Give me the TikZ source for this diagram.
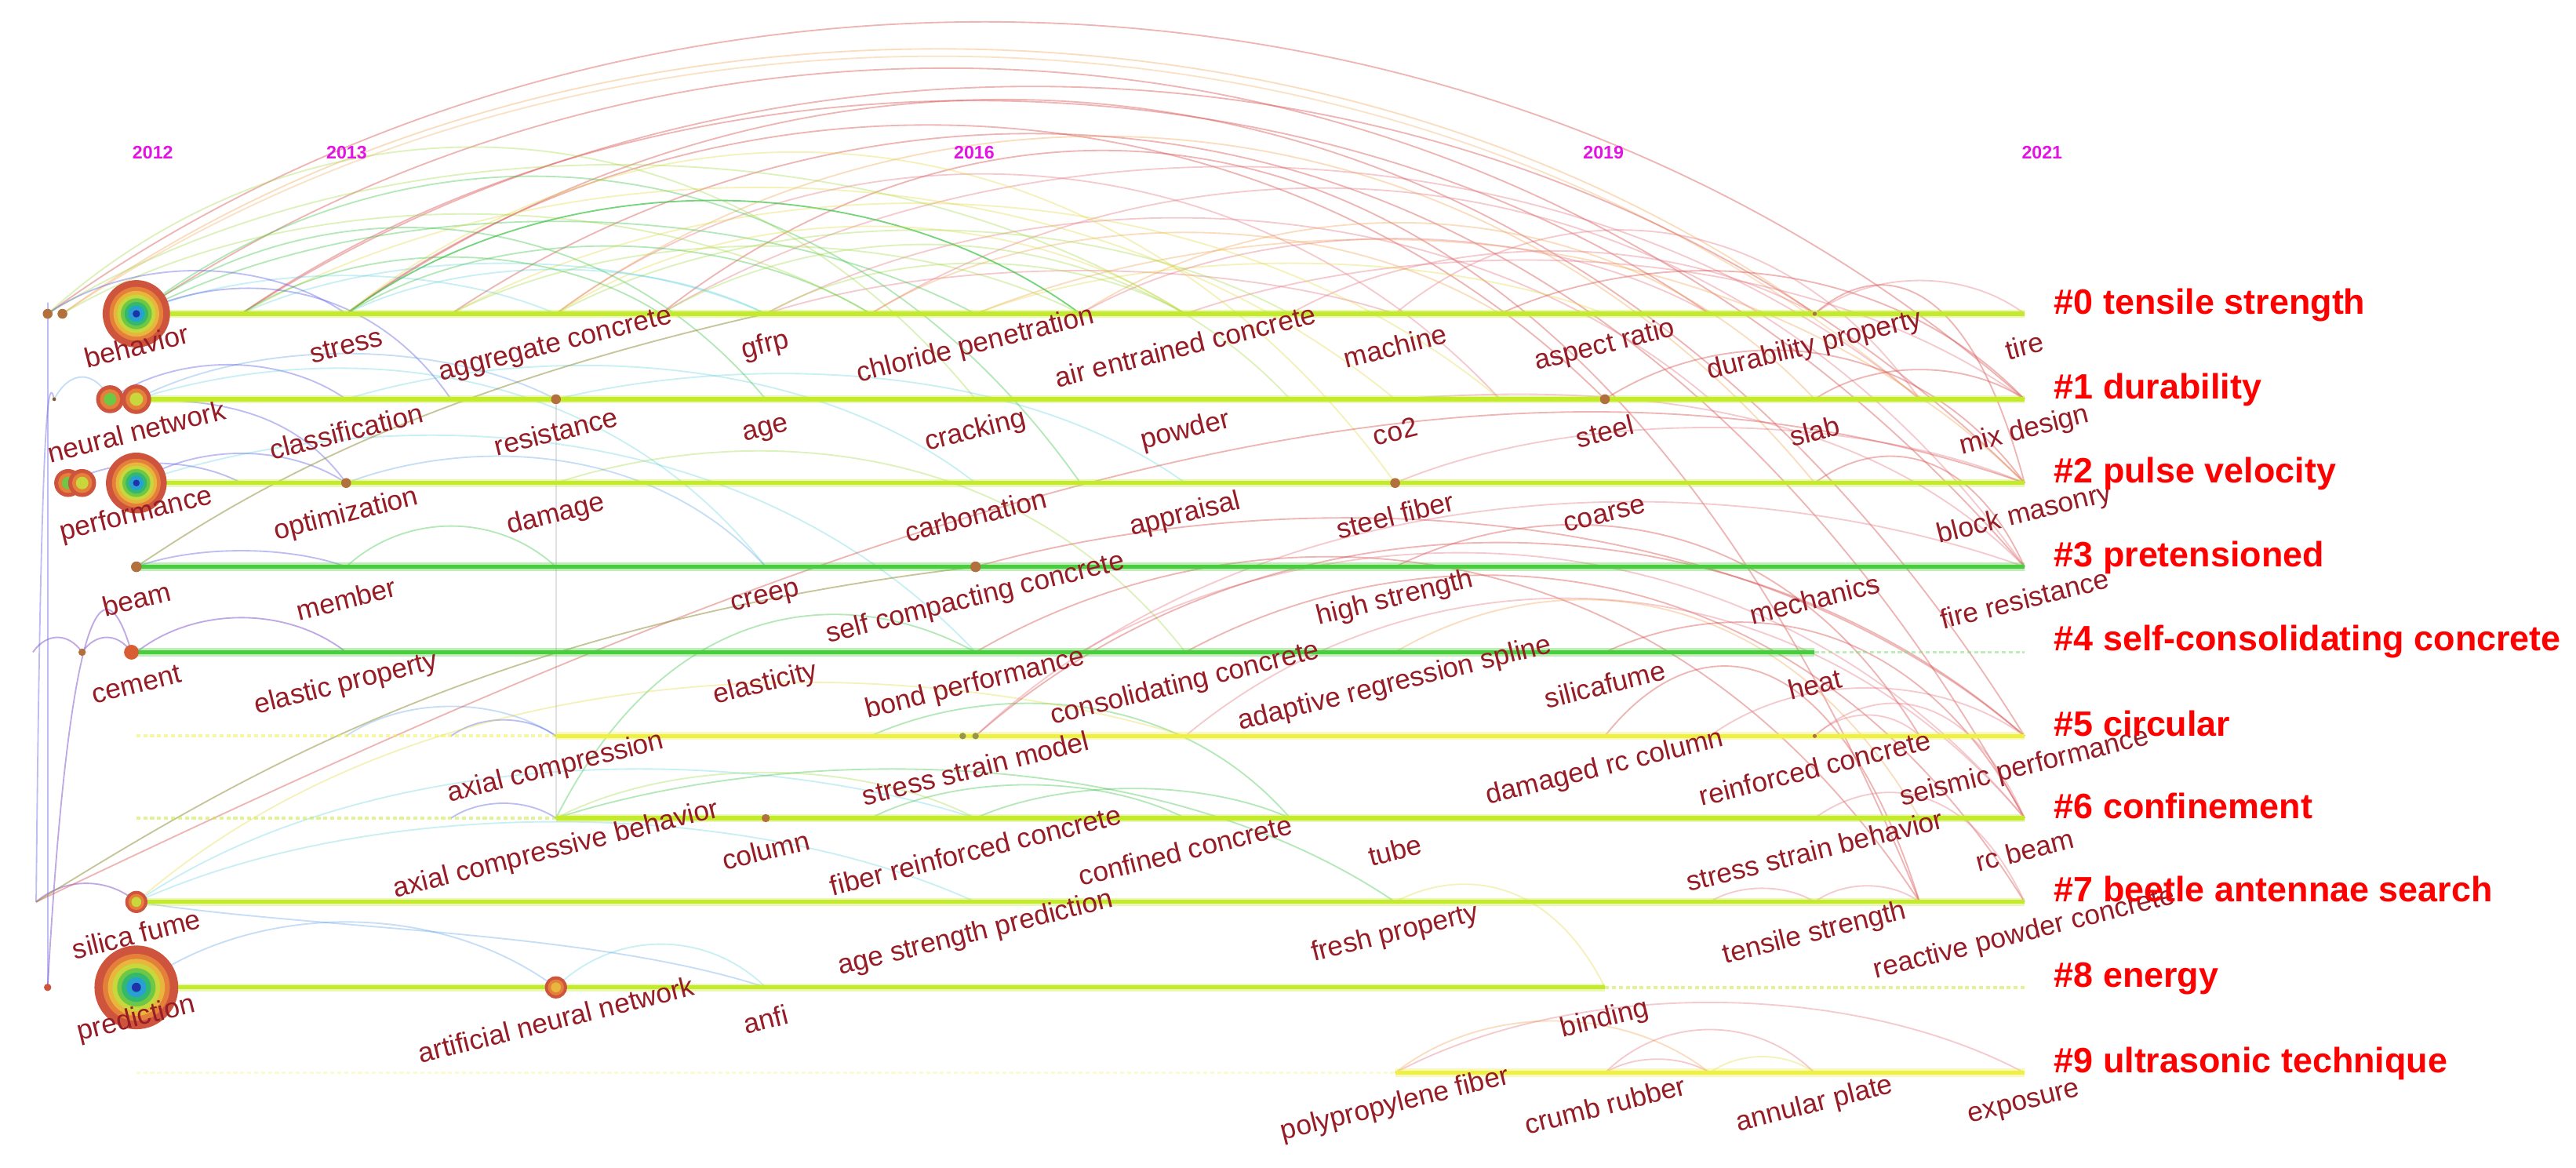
\documentclass[tikz,border=0pt]{standalone}
\usepackage{fontspec}
\setmainfont{Liberation Sans}
\usetikzlibrary{calc}
\definecolor{kwred}{RGB}{150,28,38}
\definecolor{yrmag}{RGB}{225,20,225}
\definecolor{clred}{RGB}{255,0,0}
\definecolor{tlyg}{RGB}{196,234,45}
\definecolor{tlgreen}{RGB}{72,205,60}
\definecolor{tlyel}{RGB}{238,240,70}
\definecolor{dotbrown}{RGB}{178,112,60}
\definecolor{ca}{RGB}{90,90,225}
\definecolor{cb}{RGB}{80,150,230}
\definecolor{cc}{RGB}{60,200,215}
\definecolor{cd}{RGB}{60,195,70}
\definecolor{ce}{RGB}{160,215,60}
\definecolor{cf}{RGB}{225,215,60}
\definecolor{cg}{RGB}{240,160,70}
\definecolor{ch}{RGB}{215,80,80}
\definecolor{ci}{RGB}{230,130,140}
\definecolor{cj}{RGB}{150,110,210}
\definecolor{colive}{RGB}{150,150,70}
\definecolor{ringA}{RGB}{206,84,62}
\definecolor{ringB}{RGB}{228,128,58}
\definecolor{ringC}{RGB}{232,182,60}
\definecolor{ringD}{RGB}{200,215,60}
\definecolor{ringE}{RGB}{110,200,70}
\definecolor{ringF}{RGB}{50,185,110}
\definecolor{ringG}{RGB}{40,160,210}
\definecolor{ringH}{RGB}{30,50,170}
\tikzset{
  arcbase/.style={line width=0.5pt, draw opacity=0.4},
  aa/.style={arcbase, draw=ca},
  ab/.style={arcbase, draw=cb, draw opacity=0.32},
  ac/.style={arcbase, draw=cc, draw opacity=0.28},
  ad/.style={arcbase, draw=cd, draw opacity=0.38},
  ae/.style={arcbase, draw=ce, draw opacity=0.35},
  af/.style={arcbase, draw=cf, draw opacity=0.35},
  ag/.style={arcbase, draw=cg, draw opacity=0.35},
  ah/.style={arcbase, draw=ch, draw opacity=0.42},
  ai/.style={arcbase, draw=ci, draw opacity=0.42},
  aj/.style={arcbase, draw=cj, draw opacity=0.6},
  tlcore/.style={line width=1.4pt},
  tlglow/.style={line width=2.8pt, draw opacity=0.35},
  tldash/.style={line width=1pt, dash pattern=on 1.4pt off 1pt, draw opacity=0.5},
  kw/.style={font=\fontsize{9.6}{11}\selectfont, text=kwred, rotate=14, inner sep=0pt},
  cl/.style={font=\bfseries\fontsize{12.2}{14}\selectfont, text=clred, anchor=base west, inner sep=0pt},
  yr/.style={font=\bfseries\fontsize{6.3}{7}\selectfont, text=yrmag, inner sep=0pt},
  dotn/.style={circle, fill=dotbrown, inner sep=0pt, minimum size=#1},
}
% arc between two named points; #4 = height of the control points (in picture units, y downwards)
\newcommand\carc[4]{\draw[#1] let \p1=(#2), \p2=(#3) in (#2) .. controls ({\x1+0.28*(\x2-\x1)},{(#4)*(-0.569055pt)}) and ({\x2-0.28*(\x2-\x1)},{(#4)*(-0.569055pt)}) .. (#3);}
\newcommand\kwl[3]{\node[kw] (#1) at ($(#2)+(0,19.5)$) {#3};}
\newcommand\bigring[3]{%
  \pgfmathsetmacro\dd{2*#3}%
  \node[circle,inner sep=0pt,minimum size=\dd mm] (#1) at (#2) {};
  \foreach \f/\cx in {1/ringA,0.8/ringB,0.68/ringC,0.57/ringD,0.46/ringE,0.35/ringF,0.24/ringG,0.11/ringH}{%
    \pgfmathsetmacro\rr{\f*#3}\fill[\cx] (#2) circle[radius=\rr mm];}}
\newcommand\smallring[4]{%
  \pgfmathsetmacro\dd{2*#3}%
  \node[circle,inner sep=0pt,minimum size=\dd mm] (#1) at (#2) {};
  \foreach \f/\cx in {1/ringA,0.72/ringB,0.45/#4}{%
    \pgfmathsetmacro\rr{\f*#3}\fill[\cx] (#2) circle[radius=\rr mm];}}
\begin{document}
\begin{tikzpicture}[x=0.02cm,y=-0.02cm]
\useasboundingbox (0,0) rectangle (1568,710.5);
\fill[white] (0,0) rectangle (1568,710.5);
% grid coordinates
\foreach \rw/\yy in {0/191,1/243,2/294,3/345,4/397,5/448,6/498,7/549,8/601,9/653}{
  \foreach \kk in {0,...,18}{\coordinate (p\rw x\kk) at ({83+63.85*\kk},\yy);}}
\coordinate (la0) at (29,191);
\coordinate (lb0) at (38,191);
\coordinate (la1) at (33,243);
\coordinate (lc1) at (67,243);
\coordinate (lc2) at (41.5,294);
\coordinate (ld2) at (50,294);
\coordinate (la4) at (20,397);
\coordinate (lb4) at (50,397);
\coordinate (lc4) at (80,397);
\coordinate (la7) at (22,549);
\coordinate (la8) at (29,601);
\coordinate (s5a) at (586,448);
% ---------- arcs: top ----------
\carc{ah}{la0}{p1x18}{-54}
\carc{ag}{lb0}{p0x16}{-24}
\carc{ag,draw opacity=.3}{lb0}{p1x17}{-26}
\carc{ah}{p0x1}{p2x18}{-8}
\carc{ah}{p0x1}{p0x15}{18}
\carc{ah}{p0x2}{p1x14}{30}
\carc{ai}{p0x5}{p1x17}{64}
\carc{ai}{p0x4}{p1x13}{70}
\carc{ai}{p0x6}{p1x15}{106}
\carc{ai}{p0x12}{p1x17}{116}
\carc{ai}{p0x6}{p0x12}{156}
\carc{ai}{p0x16}{p0x18}{164}
\carc{ah}{p0x0}{p3x18}{-29}
\carc{ah}{p0x2}{p5x18}{-13}
\carc{ag}{p0x4}{p2x16}{33}
\carc{ah}{p0x3}{p6x18}{12}
\carc{ai}{p0x7}{p3x18}{71}
\carc{ah}{p0x5}{p7x17}{23}
\carc{ag}{p0x8}{p2x18}{119}
\carc{ai}{p0x10}{p1x18}{141}
\carc{af}{p0x8}{p0x14}{150}
\carc{ag}{p0x9}{p1x16}{110}
\carc{ai}{p0x11}{p0x16}{140}
\carc{ae}{p0x6}{p0x10}{150}
\carc{ah}{p0x13}{p1x18}{150}
\carc{ai}{p0x9}{p0x15}{130}
\carc{ag}{p0x7}{p0x13}{125}
% ---------- arcs: green / yellow ----------
\carc{ad,draw opacity=.7}{p0x2}{p0x9}{99}
\carc{ad}{p0x0}{p0x8}{116}
\carc{ae}{la0}{p0x10}{70}
\carc{af}{p0x1}{p1x12}{81}
\carc{ad}{p0x2}{p0x7}{136}
\carc{ac}{p0x1}{p0x6}{150}
\carc{af}{p0x3}{p1x13}{94}
\carc{ad}{p0x0}{p1x6}{114}
\carc{ae}{la0}{p1x8}{48}
\carc{ae}{p0x4}{p0x11}{123}
\carc{ad}{p0x0}{p2x9}{66}
\carc{af}{p0x2}{p2x12}{46}
\carc{ac}{p0x0}{p0x4}{160}
\carc{ae}{p0x3}{p0x9}{136}
\carc{ae}{lb0}{p0x7}{110}
\carc{ad}{p0x1}{p0x5}{145}
\carc{af}{p0x4}{p0x10}{120}
\carc{ac}{p0x2}{p0x6}{155}
\carc{ae}{p0x5}{p1x11}{128}
% ---------- arcs: blue, left ----------
\carc{aa}{la0}{p0x2}{156}
\carc{aa}{p0x0}{p1x3}{165}
\carc{ab}{p1x0}{p1x4}{206}
\carc{aa}{p1x0}{p2x2}{244}
\carc{aa}{p2x0}{p2x2}{270}
\carc{aa}{lc2}{p2x1}{278}
\carc{aa}{p3x0}{p3x2}{332}
\carc{aj}{p4x0}{p4x2}{369}
\carc{aj}{la4}{lb4}{385}
\carc{aj}{lb4}{lc4}{385}
\carc{aj}{la8}{lc4}{347}
\carc{aa}{la8}{la0}{170}
\carc{aa}{la7}{la1}{230}
\carc{aj}{la7}{p7x0}{534}
\carc{ab}{p8x0}{p8x4}{548}
\carc{ab}{p7x0}{p8x6}{566}
\carc{ac}{p8x4}{p8x6}{566}
\carc{ab}{la1}{lc1}{225}
\carc{aa}{lc1}{p1x2}{215}
% ---------- arcs: middle left ----------
\carc{ac}{p1x0}{p3x6}{209}
\carc{ac}{p2x0}{p4x8}{245}
\carc{ac}{p1x2}{p2x8}{210}
\carc{ad}{p3x2}{p3x4}{312}
\carc{ae}{p2x4}{p4x10}{259}
\carc{ac}{p1x4}{p2x10}{217}
\carc{ab}{p2x2}{p3x6}{267}
\carc{ad}{p6x4}{p4x8}{357}
\carc{ad}{p6x7}{p6x10}{471}
\carc{ad}{p6x8}{p6x11}{474}
\carc{ad}{p5x7}{p6x11}{416}
\carc{ae}{p6x4}{p6x8}{461}
\carc{ab}{p5x2}{p5x4}{424}
\carc{aa}{p6x3}{p6x4}{486}
\carc{aa}{p5x3}{p5x4}{435}
\carc{ac}{p7x0}{p6x8}{452}
\carc{ac}{p7x0}{p7x8}{484}
\carc{af}{p7x0}{p5x10}{394}
\carc{ad}{p6x4}{p7x12}{452}
% ---------- arcs: middle right ----------
\carc{ah}{p3x8}{p5x18}{295}
\carc{ah}{p4x8}{p7x17}{303}
\carc{ai}{p4x9}{p6x18}{304}
\carc{ah}{p5x8}{p5x18}{291}
\carc{ai}{p5x8}{p3x18}{281}
\carc{ah}{p4x10}{p7x18}{319}
\carc{ai}{p5x10}{p6x18}{329}
\carc{ah}{p3x12}{p5x17}{301}
\carc{ag}{p4x12}{p6x17}{344}
\carc{ai}{p5x15}{p5x18}{409}
\carc{ai}{p5x16}{p5x17}{431}
\carc{ai}{p7x16}{p7x17}{536}
\carc{ai}{p7x15}{p7x16}{538}
\carc{ah}{p5x14}{p7x17}{380}
\carc{ah}{p4x14}{p6x18}{364}
\carc{ai}{p5x16}{p6x18}{416}
\carc{ai}{p6x16}{p7x18}{472}
\carc{ah}{p1x14}{p2x18}{197}
\carc{ah}{p1x16}{p1x18}{219}
\carc{ah}{p2x16}{p3x18}{267}
\carc{ai}{p2x12}{p2x18}{249}
\carc{ah}{p0x16}{p2x18}{159}
\carc{ai}{p1x12}{p3x18}{235}
% ---------- arcs: rows 8-9 ----------
\carc{af}{p7x12}{p8x14}{530}
\carc{ai}{p9x12}{p9x18}{596}
\carc{ai}{p9x14}{p9x16}{618}
\carc{ag}{p9x12}{p9x15}{611}
\carc{af}{p9x15}{p9x16}{640}
\carc{ai}{p9x14}{p9x15}{642}
\draw[arcbase,draw=gray!60,draw opacity=.4] (p1x4) -- (p6x4);
\draw[ah] (la7) .. controls (480,330) and (880,170) .. (p2x18);
\draw[arcbase,draw=colive,draw opacity=.55] (la7) .. controls (150,470) and (300,380) .. (p3x8);
\draw[arcbase,draw=colive,draw opacity=.55] (p3x0) .. controls (150,300) and (250,240) .. (p0x6);
% ---------- timelines ----------
\foreach \rw in {0,1,2,7}{
  \draw[tlglow,draw=tlyg] (p\rw x0) -- (p\rw x18);
  \draw[tlcore,draw=tlyg] (p\rw x0) -- (p\rw x18);}
\draw[tlglow,draw=tlgreen] (p3x0) -- (p3x18);
\draw[tlcore,draw=tlgreen] (p3x0) -- (p3x18);
\draw[tlglow,draw=tlgreen] (p4x0) -- (p4x16);
\draw[tlcore,draw=tlgreen] (p4x0) -- (p4x16);
\draw[tldash,draw=tlgreen!70] (p4x16) -- (p4x18);
\draw[tldash,draw=tlyel] (p5x0) -- (p5x4);
\draw[tlglow,draw=tlyel] (p5x4) -- (p5x18);
\draw[tlcore,draw=tlyel] (p5x4) -- (p5x18);
\draw[tldash,draw=tlyg] (p6x0) -- (p6x4);
\draw[tlglow,draw=tlyg] (p6x4) -- (p6x18);
\draw[tlcore,draw=tlyg] (p6x4) -- (p6x18);
\draw[tlglow,draw=tlyg] (p8x0) -- (p8x14);
\draw[tlcore,draw=tlyg] (p8x0) -- (p8x14);
\draw[tldash,draw=tlyg] (p8x14) -- (p8x18);
\draw[tldash,draw=tlyel!70,draw opacity=.35] (p9x0) -- (p9x12);
\draw[tlglow,draw=tlyel] (p9x12) -- (p9x18);
\draw[tlcore,draw=tlyel] (p9x12) -- (p9x18);
% ---------- nodes ----------
\node[dotn=1.2mm] (d0a) at (la0) {};
\node[dotn=1.2mm] (d0b) at (lb0) {};
\bigring{nbehavior}{p0x0}{4.1}
\node[dotn=0.5mm] (d0c) at (p0x16) {};
\node[dotn=0.45mm,fill=brown!70!black] (d1a) at (la1) {};
\smallring{nnet1}{lc1}{1.7}{ringE}
\smallring{nnet2}{p1x0}{1.8}{ringD}
\node[dotn=1.2mm] (d1b) at (p1x4) {};
\node[dotn=1.2mm] (d1c) at (p1x14) {};
\smallring{nperf1}{lc2}{1.7}{ringE}
\smallring{nperf2}{ld2}{1.7}{ringD}
\bigring{nperformance}{p2x0}{3.7}
\node[dotn=1.2mm] (d2a) at (p2x2) {};
\node[dotn=1.2mm] (d2b) at (p2x12) {};
\node[dotn=1.3mm] (d3a) at (p3x0) {};
\node[dotn=1.3mm] (d3b) at (p3x8) {};
\node[dotn=0.9mm] (d4a) at (lb4) {};
\node[dotn=1.8mm,fill=ringA!80!orange] (d4b) at (lc4) {};
\node[dotn=0.8mm,fill=colive] (d5a) at (s5a) {};
\node[dotn=0.8mm,fill=colive] (d5b) at (p5x8) {};
\node[dotn=0.5mm] (d5c) at (p5x16) {};
\node[dotn=1mm] (d6a) at (p6x6) {};
\smallring{nsilica}{p7x0}{1.35}{ringD}
\node[dotn=0.9mm,fill=ringA] (d8a) at (la8) {};
\bigring{nprediction}{p8x0}{5.1}
\smallring{nann}{p8x4}{1.35}{ringC}
% ---------- years ----------
\node[yr] (y2012) at (93,93) {2012};
\node[yr] (y2013) at (211,93) {2013};
\node[yr] (y2016) at (593,93) {2016};
\node[yr] (y2019) at (976,93) {2019};
\node[yr] (y2021) at (1243,93) {2021};
% ---------- keyword labels ----------
\kwl{k00}{p0x0}{behavior}
\kwl{k01}{p0x2}{stress}
\kwl{k02}{p0x4}{aggregate concrete}
\kwl{k03}{p0x6}{gfrp}
\kwl{k04}{p0x8}{chloride penetration}
\kwl{k05}{p0x10}{air entrained concrete}
\kwl{k06}{p0x12}{machine}
\kwl{k07}{p0x14}{aspect ratio}
\kwl{k08}{p0x16}{durability property}
\kwl{k09}{p0x18}{tire}
\kwl{k10}{p1x0}{neural network}
\kwl{k11}{p1x2}{classification}
\kwl{k12}{p1x4}{resistance}
\kwl{k13}{p1x6}{age}
\kwl{k14}{p1x8}{cracking}
\kwl{k15}{p1x10}{powder}
\kwl{k16}{p1x12}{co2}
\kwl{k17}{p1x14}{steel}
\kwl{k18}{p1x16}{slab}
\kwl{k19}{p1x18}{mix design}
\kwl{k20}{p2x0}{performance}
\kwl{k21}{p2x2}{optimization}
\kwl{k22}{p2x4}{damage}
\kwl{k24}{p2x8}{carbonation}
\kwl{k25}{p2x10}{appraisal}
\kwl{k26}{p2x12}{steel fiber}
\kwl{k27}{p2x14}{coarse}
\kwl{k29}{p2x18}{block masonry}
\kwl{k30}{p3x0}{beam}
\kwl{k31}{p3x2}{member}
\kwl{k33}{p3x6}{creep}
\kwl{k34}{p3x8}{self compacting concrete}
\kwl{k36}{p3x12}{high strength}
\kwl{k38}{p3x16}{mechanics}
\kwl{k39}{p3x18}{fire resistance}
\kwl{k40}{p4x0}{cement}
\kwl{k41}{p4x2}{elastic property}
\kwl{k43}{p4x6}{elasticity}
\kwl{k44}{p4x8}{bond performance}
\kwl{k45}{p4x10}{consolidating concrete}
\kwl{k46}{p4x12}{adaptive regression spline}
\kwl{k47}{p4x14}{silicafume}
\kwl{k48}{p4x16}{heat}
\kwl{k52}{p5x4}{axial compression}
\kwl{k54}{p5x8}{stress strain model}
\kwl{k57}{p5x14}{damaged rc column}
\kwl{k58}{p5x16}{reinforced concrete}
\kwl{k59}{p5x18}{seismic performance}
\kwl{k62}{p6x4}{axial compressive behavior}
\kwl{k63}{p6x6}{column}
\kwl{k64}{p6x8}{fiber reinforced concrete}
\kwl{k65}{p6x10}{confined concrete}
\kwl{k66}{p6x12}{tube}
\kwl{k68}{p6x16}{stress strain behavior}
\kwl{k69}{p6x18}{rc beam}
\kwl{k70}{p7x0}{silica fume}
\kwl{k74}{p7x8}{age strength prediction}
\kwl{k76}{p7x12}{fresh property}
\kwl{k78}{p7x16}{tensile strength}
\kwl{k79}{p7x18}{reactive powder concrete}
\kwl{k80}{p8x0}{prediction}
\kwl{k82}{p8x4}{artificial neural network}
\kwl{k83}{p8x6}{anfi}
\kwl{k87}{p8x14}{binding}
\kwl{k96}{p9x12}{polypropylene fiber}
\kwl{k97}{p9x14}{crumb rubber}
\kwl{k98}{p9x16}{annular plate}
\kwl{k99}{p9x18}{exposure}
% ---------- cluster labels ----------
\node[cl] (c0) at (1250,191) {\#0 tensile strength};
\node[cl] (c1) at (1250,243) {\#1 durability};
\node[cl] (c2) at (1250,294) {\#2 pulse velocity};
\node[cl] (c3) at (1250,345) {\#3 pretensioned};
\node[cl] (c4) at (1250,396) {\#4 self-consolidating concrete};
\node[cl] (c5) at (1250,448) {\#5 circular};
\node[cl] (c6) at (1250,498) {\#6 confinement};
\node[cl] (c7) at (1250,549) {\#7 beetle antennae search};
\node[cl] (c8) at (1250,601) {\#8 energy};
\node[cl] (c9) at (1250,653) {\#9 ultrasonic technique};
\end{tikzpicture}
\end{document}
